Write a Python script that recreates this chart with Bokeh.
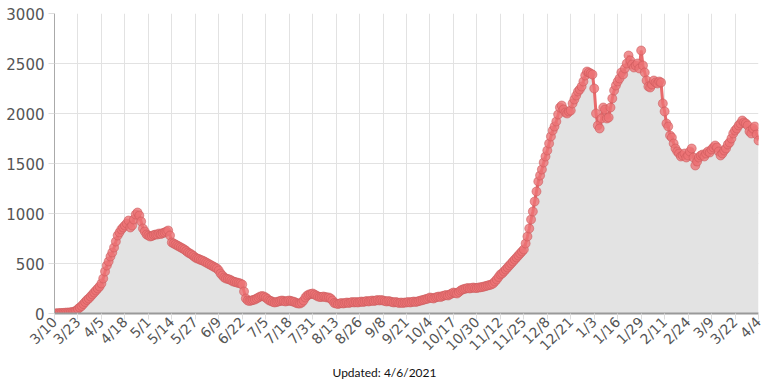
import math
from bokeh.plotting import figure
from bokeh.models import Range1d, FixedTicker, Title
from bokeh.embed import file_html
from bokeh.resources import INLINE

# Daily values, one list per 13-day period starting 3/10/2020
p01 = [0, 2, 3, 4, 5, 6, 8, 9, 10, 12, 15, 20, 28]
p02 = [45, 60, 75, 95, 115, 135, 150, 170, 190, 210, 230, 250, 270]
p03 = [300, 350, 420, 480, 520, 570, 610, 660, 720, 780, 810, 840, 860]
p04 = [880, 900, 930, 860, 880, 940, 990, 1010, 980, 920, 850, 820, 790]
p05 = [780, 770, 775, 785, 790, 790, 800, 795, 805, 810, 820, 830, 780]
p06 = [710, 700, 690, 680, 670, 660, 650, 640, 625, 610, 600, 590, 575]
p07 = [560, 550, 545, 535, 530, 520, 510, 500, 490, 480, 470, 460, 450]
p08 = [430, 400, 380, 360, 350, 345, 340, 330, 320, 315, 310, 305, 300]
p09 = [290, 220, 150, 130, 125, 130, 135, 140, 150, 160, 170, 175, 170]
p10 = [160, 145, 130, 125, 115, 110, 115, 120, 125, 130, 125, 120, 125]
p11 = [130, 125, 120, 115, 105, 100, 100, 110, 130, 160, 180, 190, 195]
p12 = [200, 190, 180, 170, 165, 165, 170, 165, 160, 160, 150, 130, 105]
p13 = [100, 95, 100, 105, 100, 105, 110, 105, 110, 115, 110, 115, 110]
p14 = [115, 120, 115, 120, 125, 120, 125, 130, 125, 130, 135, 130, 135]
p15 = [130, 125, 120, 125, 120, 115, 110, 115, 110, 105, 110, 105, 110]
p16 = [110, 115, 110, 115, 120, 115, 120, 125, 130, 135, 140, 145, 150]
p17 = [160, 155, 150, 160, 165, 170, 165, 175, 180, 185, 180, 190, 200]
p18 = [210, 205, 200, 215, 230, 240, 245, 250, 255, 250, 255, 260, 255]
p19 = [255, 260, 262, 265, 270, 275, 280, 285, 290, 300, 320, 340, 365]
p20 = [390, 400, 420, 440, 460, 480, 500, 520, 540, 560, 580, 600, 620]
p21 = [640, 700, 770, 850, 940, 1020, 1120, 1220, 1320, 1380, 1440, 1510, 1570]
p22 = [1630, 1700, 1770, 1830, 1870, 1920, 1990, 2060, 2080, 2040, 2010, 2000, 2020]
p23 = [2030, 2100, 2140, 2180, 2220, 2240, 2270, 2320, 2380, 2420, 2410, 2400, 2390]
p24 = [2250, 2000, 1880, 1850, 1950, 2060, 2040, 1950, 1960, 2060, 2150, 2230, 2280]
p25 = [2320, 2350, 2410, 2390, 2450, 2500, 2580, 2530, 2490, 2460, 2480, 2500, 2450]
p26 = [2630, 2480, 2410, 2330, 2270, 2260, 2290, 2330, 2310, 2300, 2320, 2310, 2100]
p27 = [2020, 1900, 1870, 1780, 1760, 1700, 1650, 1620, 1600, 1570, 1580, 1600, 1560]
p28 = [1580, 1620, 1650, 1560, 1480, 1520, 1560, 1580, 1590, 1570, 1600, 1620, 1610]
p29 = [1640, 1660, 1680, 1660, 1620, 1580, 1600, 1630, 1650, 1690, 1710, 1750, 1800]
p30 = [1830, 1850, 1880, 1900, 1930, 1910, 1900, 1880, 1820, 1800, 1850, 1870, 1790, 1730]

tick_labels = ["3/10", "3/23", "4/5", "4/18", "5/1", "5/14", "5/27", "6/9", "6/22",
               "7/5", "7/18", "7/31", "8/13", "8/26", "9/8", "9/21", "10/4", "10/17",
               "10/30", "11/12", "11/25", "12/8", "12/21", "1/3", "1/16", "1/29",
               "2/11", "2/24", "3/9", "3/22", "4/4"]
y_ticks = [0, 500, 1000, 1500, 2000, 2500, 3000]
updated_text = "Updated: 4/6/2021"

values = (p01 + p02 + p03 + p04 + p05 + p06 + p07 + p08 + p09 + p10 + p11 + p12 + p13 +
          p14 + p15 + p16 + p17 + p18 + p19 + p20 + p21 + p22 + p23 + p24 + p25 + p26 +
          p27 + p28 + p29 + p30)
days = list(range(len(values)))
tick_pos = [i * 13 for i in range(len(tick_labels))]

FONT = "DejaVu Sans"
p = figure(width=764, height=379, output_backend="svg", toolbar_location=None,
           x_range=Range1d(0, days[-1]), y_range=Range1d(0, 3000),
           min_border_left=54, min_border_right=6, min_border_top=13, min_border_bottom=0)
p.outline_line_color = None
p.background_fill_color = "white"

p.varea(x=days, y1=[0] * len(values), y2=values, fill_color="#e3e3e3")
p.line(days, values, line_color="#e86a6c", line_width=3)
p.scatter(days, values, size=9, fill_color="#ec7376", fill_alpha=0.8,
          line_color="#c9585a", line_alpha=0.55, line_width=1)

p.xaxis.ticker = FixedTicker(ticks=tick_pos)
p.xaxis.major_label_overrides = {t: l for t, l in zip(tick_pos, tick_labels)}
p.xaxis.major_label_orientation = math.pi / 4
p.yaxis.ticker = FixedTicker(ticks=y_ticks)

for ax in (p.xaxis, p.yaxis):
    ax.major_label_text_font = FONT
    ax.major_label_text_color = "#555555"
    ax.major_tick_in = 0
    ax.major_tick_out = 6
    ax.major_tick_line_color = "#dddddd"
    ax.minor_tick_line_color = None
p.xaxis.major_label_standoff = 0
p.yaxis.major_label_standoff = 4
p.xaxis.major_label_text_font_size = "14px"
p.yaxis.major_label_text_font_size = "15px"
p.xaxis.axis_line_color = "#999999"
p.xaxis.axis_line_width = 2
p.yaxis.axis_line_color = "#aaaaaa"

p.xgrid.grid_line_color = "#e2e2e2"
p.ygrid.grid_line_color = "#e2e2e2"
p.xgrid.ticker = FixedTicker(ticks=tick_pos)

p.add_layout(Title(text=updated_text, align="left", offset=278, text_font="Lato",
                   text_font_size="12px", text_font_style="normal",
                   text_color="#111111", standoff=0), "below")

open("out.html", "w").write(file_html(p, INLINE))
